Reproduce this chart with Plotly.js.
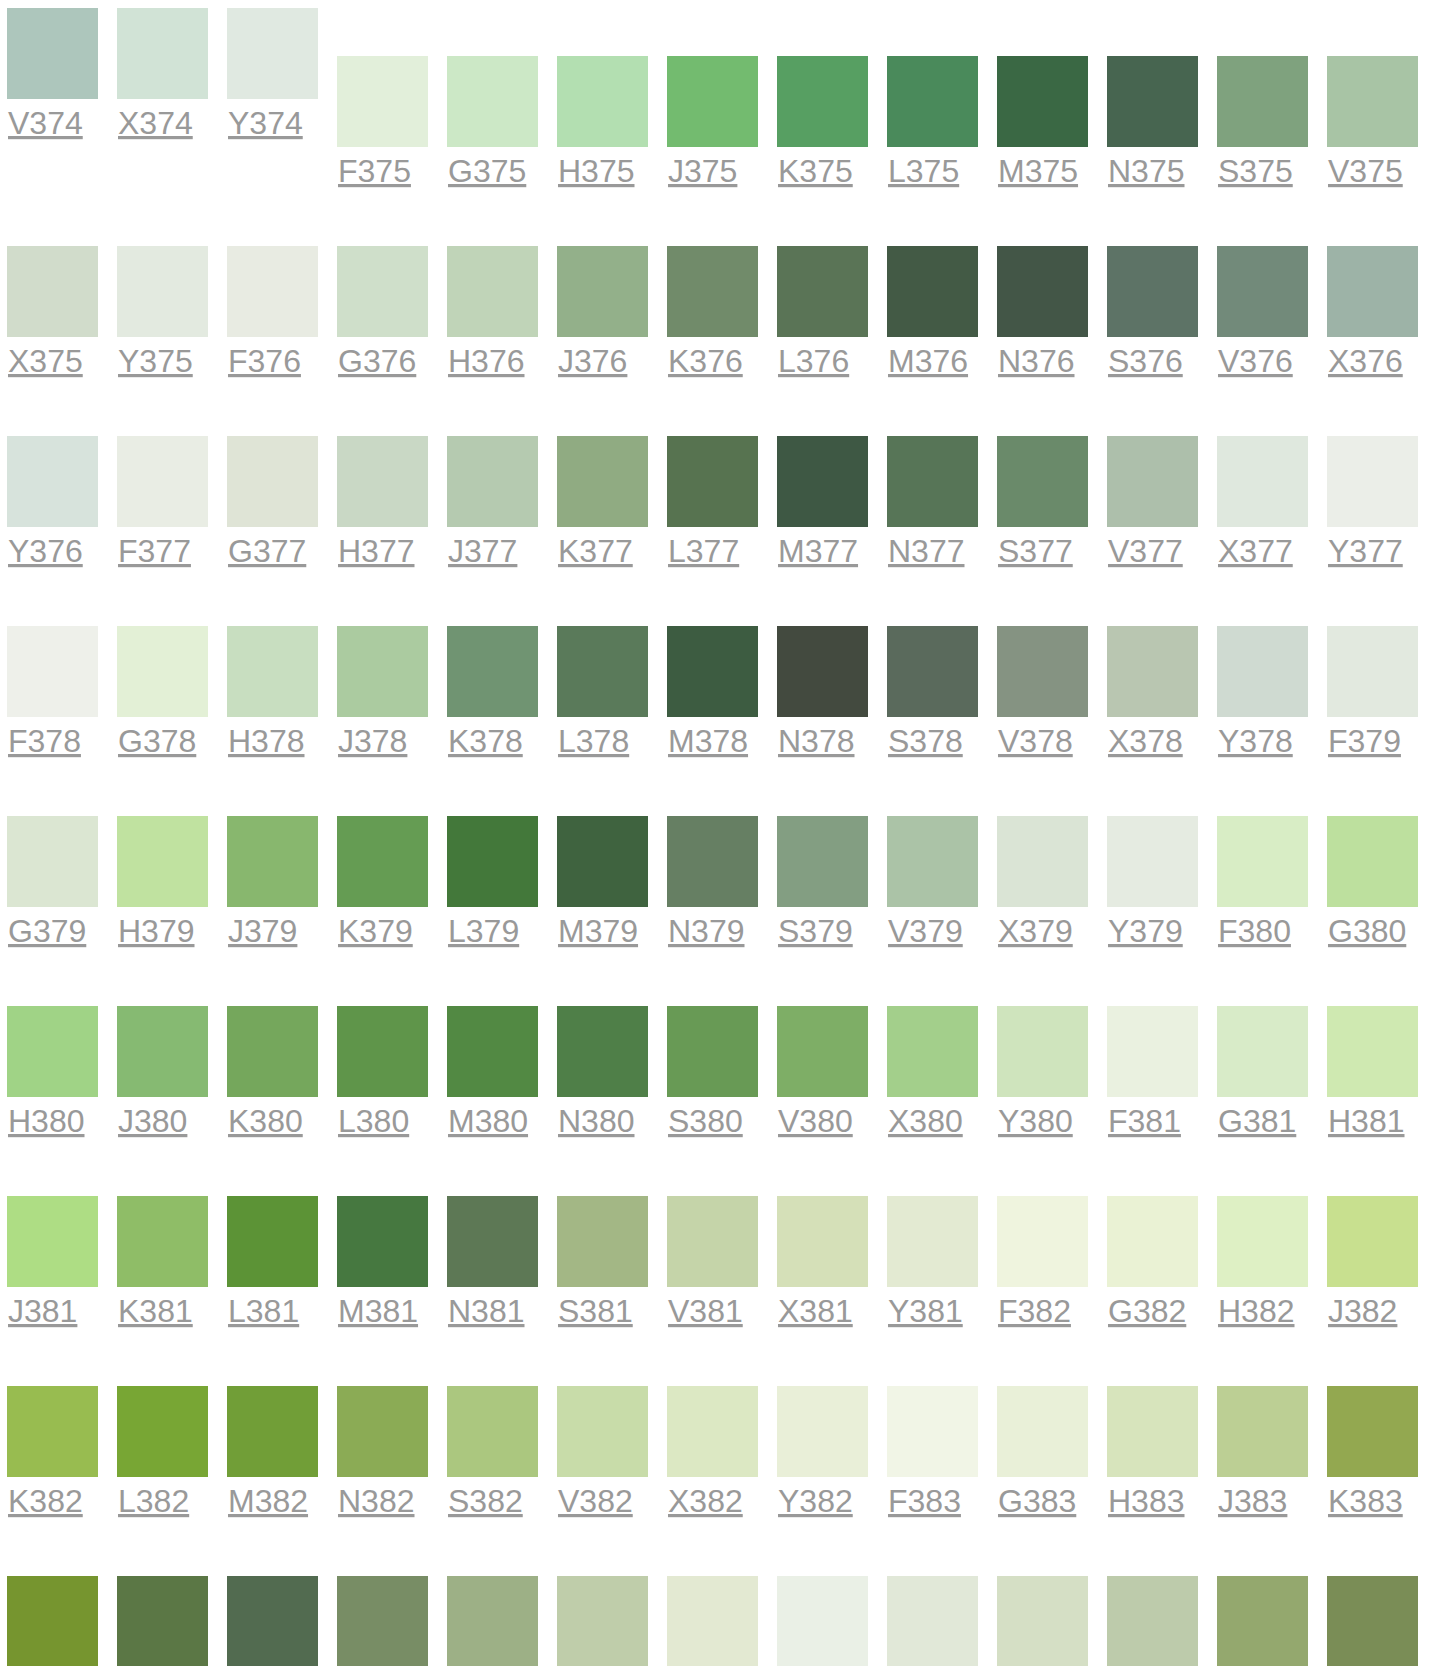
<!DOCTYPE html>
<html>
<head>
<meta charset="utf-8">
<script src="https://cdn.plot.ly/plotly-3.0.1.min.js"></script>
<style>html,body{margin:0;padding:0;background:#fff;}#chart{width:1430px;height:1666px;}</style>
</head>
<body>
<div id="chart"></div>
<script>
// Swatch codes, in reading order
const labels = [
  "V374","X374","Y374","F375","G375","H375","J375","K375","L375","M375","N375","S375","V375",
  "X375","Y375","F376","G376","H376","J376","K376","L376","M376","N376","S376","V376","X376",
  "Y376","F377","G377","H377","J377","K377","L377","M377","N377","S377","V377","X377","Y377",
  "F378","G378","H378","J378","K378","L378","M378","N378","S378","V378","X378","Y378","F379",
  "G379","H379","J379","K379","L379","M379","N379","S379","V379","X379","Y379","F380","G380",
  "H380","J380","K380","L380","M380","N380","S380","V380","X380","Y380","F381","G381","H381",
  "J381","K381","L381","M381","N381","S381","V381","X381","Y381","F382","G382","H382","J382",
  "K382","L382","M382","N382","S382","V382","X382","Y382","F383","G383","H383","J383","K383",
  "L383","M383","N383","S383","V383","X383","Y383","F384","G384","H384","J384","K384","L384"
];
// Swatch colours, same order
const colors = [
  "#adc6bc","#d1e3d6","#e0e9e1","#e2efda","#cce8c6","#b3dfb1","#73bb6f","#579f62","#4a8a5b","#3a6844","#476550","#7fa27e","#a8c4a5",
  "#d1dccb","#e3eae0","#e8ebe2","#cfdfca","#c0d4b8","#93b08a","#718b6a","#5a7456","#435a45","#435647","#5d7366","#728a7a","#9db3a7",
  "#d7e3dc","#e9ede4","#dfe4d6","#c9d8c5","#b5cab0","#90ab82","#577350","#3e5844","#577557","#6a8a6a","#adbfab","#dfe8de","#ebeee8",
  "#eef0ea","#e3f0d6","#c8dec0","#abcba0","#709472","#5a7a5a","#3d5c41","#434a3f","#5a6a5c","#859382","#b9c6b1","#cfdad1","#e2e9df",
  "#dbe6d2","#c0e2a0","#88b76e","#659c53","#43783a","#3f633f","#667f63","#839e82","#abc3a7","#dae4d5","#e5ebe1","#d8edc5","#bde09e",
  "#a0d386","#86ba72","#75a75c","#5f954a","#528943","#4f7f48","#689a55","#7eae66","#a3cf8b","#cfe4bd","#eaf1e0","#d8ebc8","#cfe9b1",
  "#aedd84","#8fbd67","#5c9336","#467840","#5d7855","#a3b785","#c5d4a9","#d5e0b8","#e3ead2","#eff4de","#eaf2d4","#def0c4","#c8e08f",
  "#98bc50","#78a634","#719e37","#8bab55","#abc77f","#c8dca9","#dce8c3","#e9efd8","#f1f5e6","#e9f0d8","#d7e4bc","#bccf94","#93a850",
  "#76952f","#5b7745","#526b50","#788d65","#9db086","#bfcdaa","#e3e9d2","#eaf0e6","#e1e8d8","#d5dfc5","#bdcbab","#94a86e","#7a8d56"
];

// layout geometry (pixels)
const W = 1430, H = 1666;
const COLS = 13, PITCH_X = 110, PITCH_Y = 190, SIZE = 91, LEFT = 7, TOP = 56, FIRST_TOP = 8, N_RAISED = 3;

const xs = [], ys = [], annotations = [];
labels.forEach(function (lab, i) {
  const col = i % COLS, row = Math.floor(i / COLS);
  const top = i < N_RAISED ? FIRST_TOP : TOP + PITCH_Y * row;
  const left = LEFT + PITCH_X * col;
  xs.push(left + SIZE / 2);
  ys.push(top + SIZE / 2);
  annotations.push({
    x: left - 1.5, y: top + 114.5, xref: "x", yref: "y",
    xanchor: "left", yanchor: "middle", showarrow: false,
    text: "<u>" + lab + "</u>",
    font: {family: "Liberation Sans, Arial, sans-serif", size: 32, color: "#999999"}
  });
});

const trace = {
  type: "scatter", mode: "markers", x: xs, y: ys,
  marker: {symbol: "square", size: SIZE, color: colors, line: {width: 0}},
  hoverinfo: "skip", cliponaxis: true
};

const layout = {
  width: W, height: H,
  margin: {l: 0, r: 0, t: 0, b: 0, pad: 0},
  paper_bgcolor: "#ffffff", plot_bgcolor: "#ffffff",
  showlegend: false,
  xaxis: {range: [0, W], visible: false, fixedrange: true},
  yaxis: {range: [H, 0], visible: false, fixedrange: true},
  annotations: annotations
};

Plotly.newPlot("chart", [trace], layout, {staticPlot: true, displayModeBar: false});
</script>
</body>
</html>
